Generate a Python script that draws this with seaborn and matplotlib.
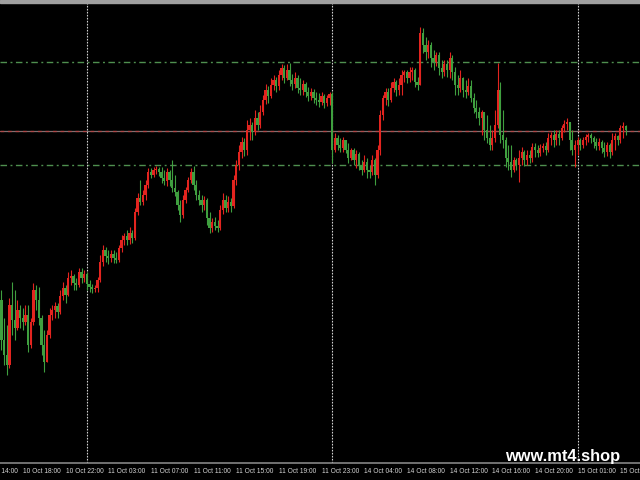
import numpy as np
import pandas as pd
import matplotlib
matplotlib.use("Agg")
import matplotlib.pyplot as plt
import seaborn as sns
from matplotlib.patches import Rectangle

# tema scuro tipo MT4
sns.set_theme(style="dark", rc={"axes.facecolor": "black", "figure.facecolor": "black"})
plt.rcParams['font.family'] = ['Liberation Sans', 'DejaVu Sans']

# barre M15, prezzi in punti
first_open = 132
close_pts = [
    92, 77, 67, 127, 112, 104, 122, 114, 110, 117,
    87, 110, 142, 132, 114, 87, 70, 97, 117, 122,
    126, 120, 136, 144, 137, 154, 156, 149, 147, 160,
    154, 158, 148, 145, 143, 144, 152, 170, 182, 176,
    174, 178, 174, 172, 184, 192, 196, 192, 199, 194,
    220, 234, 230, 237, 247, 260, 257, 262, 263, 260,
    254, 251, 260, 252, 244, 240, 227, 217, 232, 242,
    252, 260, 247, 237, 232, 227, 232, 214, 204, 210,
    206, 204, 222, 232, 224, 230, 226, 252, 267, 280,
    290, 282, 302, 307, 300, 314, 307, 320, 332, 342,
    336, 347, 352, 346, 357, 364, 354, 362, 352, 348,
    354, 344, 342, 348, 340, 336, 340, 334, 332, 330,
    336, 329, 334, 338, 282, 294, 287, 284, 292, 282,
    274, 282, 272, 278, 267, 262, 270, 262, 260, 272,
    257, 282, 317, 334, 340, 332, 344, 350, 342, 347,
    357, 360, 354, 360, 362, 350, 347, 399, 387, 380,
    387, 374, 370, 377, 364, 360, 368, 362, 374, 360,
    347, 344, 354, 342, 340, 346, 334, 324, 320, 314,
    320, 302, 294, 287, 294, 307, 342, 297, 292, 274,
    270, 262, 272, 267, 274, 280, 272, 277, 274, 285,
    282, 279, 284, 286, 282, 294, 297, 292, 298, 294,
    304, 308, 310, 292, 282, 287, 292, 287, 292, 295,
    297, 294, 290, 286, 290, 284, 280, 287, 280, 292,
    296, 292, 304, 306, 302,
]
high_pts = [
    142, 114, 107, 134, 150, 142, 132, 127, 124, 127,
    127, 114, 149, 147, 145, 117, 102, 102, 124, 127,
    130, 129, 142, 150, 147, 160, 162, 158, 154, 164,
    164, 162, 160, 152, 148, 147, 155, 177, 187, 185,
    182, 182, 182, 180, 187, 197, 199, 202, 205, 202,
    224, 239, 252, 242, 252, 264, 264, 265, 266, 265,
    265, 262, 264, 262, 272, 257, 242, 232, 237, 245,
    255, 264, 266, 252, 242, 237, 236, 234, 220, 214,
    215, 212, 227, 239, 237, 236, 234, 257, 272, 287,
    295, 294, 312, 314, 310, 322, 320, 327, 337, 348,
    346, 354, 357, 355, 362, 368, 367, 368, 369, 358,
    360, 357, 354, 352, 350, 345, 344, 343, 340, 339,
    340, 338, 337, 340, 340, 299, 297, 294, 295, 292,
    289, 284, 284, 282, 280, 272, 277, 274, 267, 277,
    274, 287, 322, 337, 344, 344, 350, 354, 352, 354,
    362, 362, 362, 365, 365, 364, 355, 405, 404, 395,
    392, 390, 382, 380, 380, 372, 372, 372, 380, 377,
    365, 357, 362, 355, 352, 354, 352, 339, 332, 325,
    322, 320, 317, 307, 302, 322, 369, 350, 322, 295,
    287, 287, 275, 274, 282, 285, 282, 282, 282, 289,
    289, 287, 288, 289, 290, 299, 300, 302, 302, 302,
    307, 312, 314, 310, 302, 292, 295, 294, 295, 298,
    299, 299, 296, 294, 294, 292, 290, 290, 289, 299,
    299, 297, 307, 310, 307,
]
low_pts = [
    82, 67, 57, 64, 97, 92, 102, 104, 102, 107,
    80, 84, 107, 122, 107, 77, 60, 70, 94, 112,
    114, 114, 118, 132, 129, 136, 147, 142, 142, 145,
    149, 150, 142, 140, 139, 140, 140, 150, 166, 170,
    168, 170, 169, 169, 170, 180, 187, 187, 188, 189,
    192, 217, 227, 227, 232, 244, 254, 255, 258, 256,
    249, 247, 246, 246, 240, 236, 222, 210, 214, 229,
    240, 249, 242, 232, 227, 220, 222, 207, 199, 200,
    202, 200, 202, 218, 220, 220, 220, 224, 247, 262,
    274, 276, 277, 292, 292, 297, 302, 304, 317, 328,
    329, 334, 342, 340, 342, 352, 349, 352, 346, 342,
    344, 339, 337, 337, 335, 331, 332, 329, 327, 325,
    327, 324, 326, 327, 269, 280, 282, 280, 280, 279,
    269, 272, 267, 264, 262, 257, 260, 254, 254, 257,
    247, 254, 277, 312, 327, 326, 330, 340, 336, 337,
    337, 350, 349, 350, 352, 345, 342, 347, 379, 372,
    374, 365, 362, 366, 357, 354, 356, 355, 354, 352,
    337, 337, 340, 335, 334, 337, 330, 319, 314, 307,
    297, 292, 289, 282, 282, 290, 304, 289, 284, 265,
    262, 255, 260, 262, 250, 267, 266, 267, 269, 270,
    275, 275, 276, 280, 277, 280, 287, 285, 287, 287,
    292, 300, 302, 282, 277, 265, 277, 282, 284, 287,
    290, 289, 284, 282, 282, 279, 275, 276, 274, 277,
    282, 287, 289, 294, 297,
]

tick_bars = [-8, 8, 24, 40, 56, 72, 88, 104, 120, 136, 152, 168, 184, 200, 216, 232]
tick_labels = ["10 Oct 14:00", "10 Oct 18:00", "10 Oct 22:00", "11 Oct 03:00",
               "11 Oct 07:00", "11 Oct 11:00", "11 Oct 15:00", "11 Oct 19:00",
               "11 Oct 23:00", "14 Oct 04:00", "14 Oct 08:00", "14 Oct 12:00",
               "14 Oct 16:00", "14 Oct 20:00", "15 Oct 01:00", "15 Oct 05:00"]
day_bars = [32, 124, 216]          # separatori di giorno
dashdot_levels = [370, 267]        # livelli verdi tratto-punto
mid_level = 301                    # livello centrale

df = pd.DataFrame({'close': close_pts, 'high': high_pts, 'low': low_pts})
df['bar'] = np.arange(len(df))
df['open'] = df['close'].shift(1).fillna(first_open)
up = df['close'] >= df['open']
colors = np.where(up, '#e3241f', '#3f9f3f')

fig = plt.figure(figsize=(6.4, 4.8), dpi=100)
ax = fig.add_axes([0, 17 / 480, 1, 460 / 480])
ax.set_facecolor('black')

# livelli orizzontali
for lv in dashdot_levels:
    ax.axhline(lv, color='#4f8f4f', lw=1, dashes=(4.7, 2.5, 1.4, 2.5), zorder=1)
ax.axhline(mid_level, color='#807070', lw=0.9, zorder=1)
ax.axhline(mid_level, color='#b04848', lw=0.9, dashes=(3, 3), zorder=1)

# separatori giornalieri
for b in day_bars:
    ax.axvline(b, color='#d0d0d0', lw=0.8, dashes=(1.5, 1.2), zorder=1)

# candele: stoppini e corpi
ax.vlines(df['bar'], df['low'], df['high'], colors=colors, lw=0.8, zorder=2)
body = np.maximum((df['close'] - df['open']).abs(), 0.8)
ax.bar(df['bar'], body, bottom=np.minimum(df['open'], df['close']),
       width=0.8, color=colors, linewidth=0, zorder=3)

# etichette orarie, allineate a sinistra sul tick (anche quella fuori vista a sinistra)
ax.set_yticks([])
ax.set_xticks(tick_bars[1:])
ax.set_xticklabels(tick_labels[1:], fontsize=4.8, color='#d4d4d4', ha='left')
ax.annotate(tick_labels[0], xy=(tick_bars[0], 0), xycoords=('data', 'axes fraction'),
            xytext=(0, -3.8), textcoords='offset points', ha='left', va='top',
            fontsize=4.8, color='#d4d4d4', annotation_clip=False)
# i limiti dopo i tick, altrimenti set_xticks li allarga
ax.set_xlim(-0.56, 239.4)
ax.set_ylim(-31, 429)
ax.tick_params(axis='x', direction='out', length=1.8, width=0.7, color='#d0d0d0', pad=2)
ax.grid(False)
for side in ['top', 'left', 'right']:
    ax.spines[side].set_visible(False)
ax.spines['bottom'].set_color('#909090')
ax.spines['bottom'].set_linewidth(1.1)

# bordo grigio in alto
fig.patches.append(Rectangle((0, 1 - 2.5 / 480), 1, 2.5 / 480, transform=fig.transFigure,
                             color='#a0a0a0', zorder=5))

# marchio
fig.text(505 / 640, 1 - 461 / 480, 'www.mt4.shop', ha='left', va='baseline',
         fontsize=11.8, fontweight='bold', color='white', family='Liberation Sans')

fig.savefig('out.png', dpi=100, facecolor='black')
